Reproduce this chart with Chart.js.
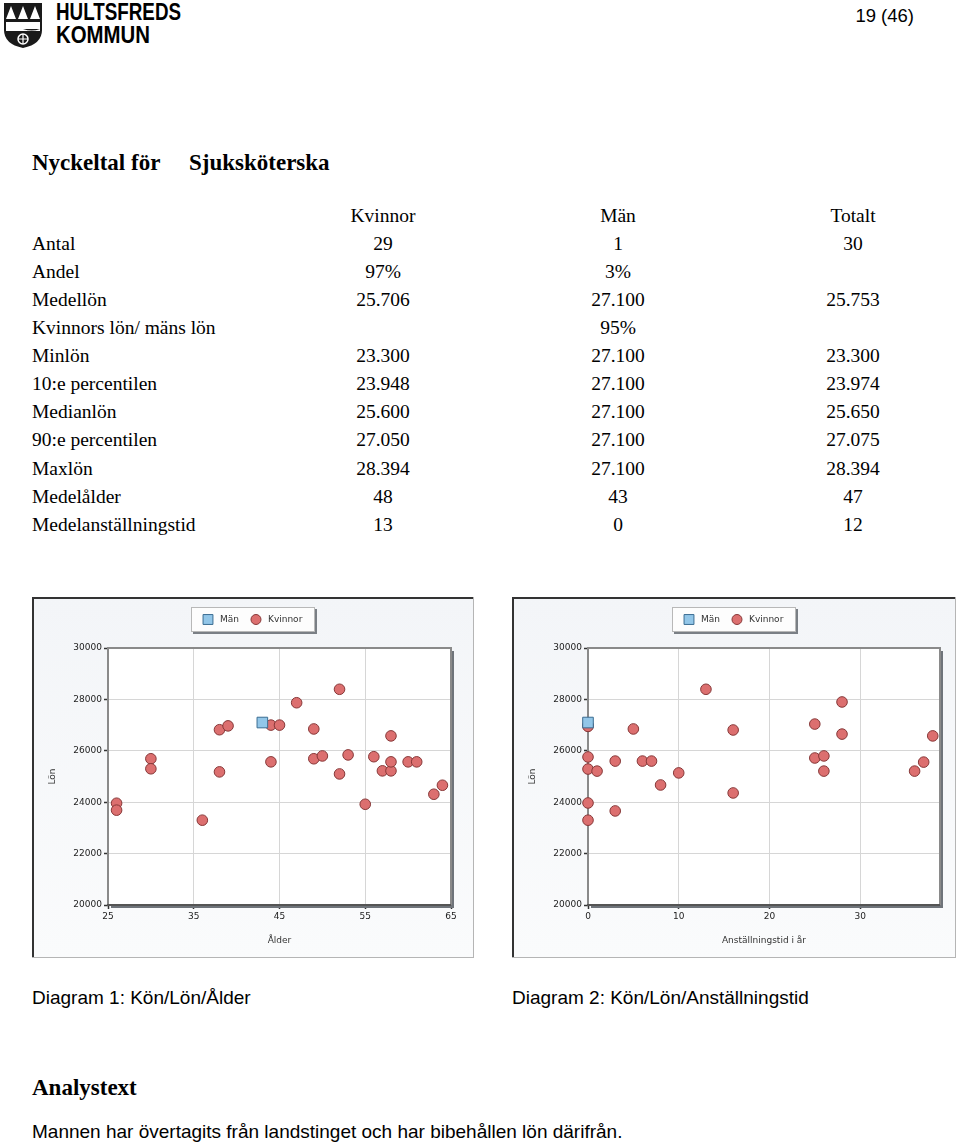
<!DOCTYPE html>
<html lang="sv">
<head>
<meta charset="utf-8">
<title>Nyckeltal för Sjuksköterska</title>
<script src="https://cdn.jsdelivr.net/npm/chart.js@4.4.0/dist/chart.umd.min.js"></script>
<style>
  body { margin: 0; width: 960px; height: 1143px; background: #fff; position: relative; overflow: hidden; }
  #page { position: absolute; left: 0; top: 0; }
  .serif { font-family: 'Liberation Serif', 'Times New Roman', serif; fill: #000; }
  .sans { font-family: 'Liberation Sans', Arial, sans-serif; fill: #000; }
  canvas { position: absolute; top: 597px; }
</style>
</head>
<body>
<svg id="page" width="960" height="1143" xmlns="http://www.w3.org/2000/svg">
  <!-- logo -->
  <path d="M4,3 H42 V30 Q42,44 23,48 Q4,44 4,30 Z" fill="#1a1a1a"/>
  <rect x="6" y="22" width="34" height="7" fill="#fff"/>
  <path d="M6,29 Q14,26 23,29 Q32,32 40,29 V31 H6 Z" fill="#fff"/>
  <path d="M11,6 L6,19 H16 Z M23,6 L18,19 H28 Z M35,6 L30,19 H40 Z" fill="#fff"/>
  <circle cx="23" cy="39" r="5" fill="none" stroke="#fff" stroke-width="1.5"/>
  <path d="M23,34 V44 M18,39 H28" stroke="#fff" stroke-width="1.2"/>
  <text x="56" y="20" class="sans" style="font-size:23px;font-weight:bold" textLength="125" lengthAdjust="spacingAndGlyphs">HULTSFREDS</text>
  <text x="56" y="43" class="sans" style="font-size:23px;font-weight:bold" textLength="94" lengthAdjust="spacingAndGlyphs">KOMMUN</text>

  <text x="914" y="21.5" class="sans" style="font-size:18.5px" text-anchor="end">19 (46)</text>

  <text x="32" y="170" class="serif" style="font-size:23px;font-weight:bold">Nyckeltal för</text>
  <text x="189" y="170" class="serif" style="font-size:23px;font-weight:bold">Sjuksköterska</text>

  <g id="table"></g>

  <text x="32" y="1004" class="sans" style="font-size:19px">Diagram 1: Kön/Lön/Ålder</text>
  <text x="512" y="1004" class="sans" style="font-size:19px">Diagram 2: Kön/Lön/Anställningstid</text>

  <text x="32" y="1095" class="serif" style="font-size:23px;font-weight:bold">Analystext</text>
  <text x="32" y="1138" class="sans" style="font-size:19px">Mannen har övertagits från landstinget och har bibehållen lön därifrån.</text>
</svg>

<canvas id="ageChart" width="442" height="361" style="left:32px"></canvas>
<canvas id="tenureChart" width="444" height="361" style="left:512px"></canvas>

<script>
// nyckeltal
const columnHeads = ['Kvinnor', 'Män', 'Totalt'];
const rowLabels = ['Antal', 'Andel', 'Medellön', 'Kvinnors lön/ mäns lön', 'Minlön', '10:e percentilen',
    'Medianlön', '90:e percentilen', 'Maxlön', 'Medelålder', 'Medelanställningstid'];
const womenCol = ['29', '97%', '25.706', '', '23.300', '23.948', '25.600', '27.050', '28.394', '48', '13'];
const menCol = ['1', '3%', '27.100', '95%', '27.100', '27.100', '27.100', '27.100', '27.100', '43', '0'];
const totalCol = ['30', '', '25.753', '', '23.300', '23.974', '25.650', '27.075', '28.394', '47', '12'];

// diagram data
const seriesLabels = ['Män', 'Kvinnor'];
const salaryTicks = [20000, 22000, 24000, 26000, 28000, 30000];
const ageTicks = [25, 35, 45, 55, 65];
const tenureTicks = [0, 10, 20, 30];

// Diagram 1: ålder / lön
const menAge = [43];
const menAgeSalary = [27100];
const womenAge = [26, 26, 36, 30, 30, 38, 39, 38, 44, 45, 44, 47, 49, 49, 50, 52, 52, 53, 55, 56, 57, 58, 58, 58, 60, 61, 63, 64];
const womenAgeSalary = [23960, 23690, 23300, 25690, 25300, 26820, 26970, 25180, 27000, 27000, 25570, 27870, 26850, 25690,
    25800, 28394, 25100, 25840, 23920, 25770, 25220, 25220, 26580, 25570, 25570, 25570, 24310, 24660];

// Diagram 2: anställningstid / lön
const menTenure = [0];
const menTenureSalary = [27100];
const womenTenure = [0, 0, 0, 0, 1, 3, 6, 7, 5, 13, 10, 16, 0, 0, 3, 8, 16, 28, 25, 28, 38, 25, 26, 26, 37, 36];
const womenTenureSalary = [27000, 26950, 25760, 25290, 25210, 25600, 25600, 25600, 26850, 28394, 25140, 26810, 23970,
    23300, 23660, 24670, 24360, 27900, 27040, 26650, 26580, 25720, 25800, 25210, 25560, 25210];

// table text
const table = document.getElementById('table');
const colX = [383, 618, 853];
function addText(x, y, str, anchor) {
    const t = document.createElementNS('http://www.w3.org/2000/svg', 'text');
    t.setAttribute('x', x);
    t.setAttribute('y', y);
    t.setAttribute('class', 'serif');
    t.setAttribute('style', 'font-size:19.5px');
    if (anchor) t.setAttribute('text-anchor', anchor);
    t.textContent = str;
    table.appendChild(t);
}
columnHeads.forEach((h, i) => addText(colX[i], 221.7, h, 'middle'));
rowLabels.forEach((label, i) => {
    const y = 221.7 + 28.09 * (i + 1);
    addText(32, y, label);
    [womenCol, menCol, totalCol].forEach((col, c) => {
        if (col[i]) addText(colX[c], y, col[i], 'middle');
    });
});

// chart look
const womenFill = '#dc6f6f';
const womenBorder = '#873838';
const menFill = '#92c6e8';
const menBorder = '#3b6d92';

const chartFrame = {
    id: 'chartFrame',
    beforeDraw(chart) {
        const { ctx, width, height, chartArea: a } = chart;
        ctx.save();
        const g = ctx.createLinearGradient(0, 0, 0, height);
        g.addColorStop(0, '#f3f5f8');
        g.addColorStop(1, '#fafbfc');
        ctx.fillStyle = g;
        ctx.fillRect(0, 0, width, height);
        ctx.fillStyle = '#fff';
        ctx.fillRect(a.left, a.top, a.right - a.left, a.bottom - a.top);
        // outer frame
        ctx.fillStyle = '#333';
        ctx.fillRect(0, 0, width, 2);
        ctx.fillRect(0, 0, 2, height);
        ctx.fillStyle = '#b5b5b5';
        ctx.fillRect(width - 1, 0, 1, height);
        ctx.fillRect(0, height - 1, width, 1);
        ctx.restore();
    },
    beforeDatasetsDraw(chart) {
        const { ctx, chartArea: a } = chart;
        ctx.save();
        // shadow
        ctx.fillStyle = '#6f747a';
        ctx.fillRect(a.right, a.top + 3, 3, a.bottom - a.top);
        ctx.fillRect(a.left + 3, a.bottom, a.right - a.left, 3);
        ctx.fillStyle = '#8a8a8a';
        ctx.fillRect(a.left - 1, a.top - 1, a.right - a.left + 1, 2);
        ctx.fillRect(a.left - 1, a.top - 1, 2, a.bottom - a.top + 1);
        ctx.fillRect(a.right - 1, a.top - 1, 2, a.bottom - a.top + 1);
        ctx.fillStyle = '#555';
        ctx.fillRect(a.left - 1, a.bottom - 1, a.right - a.left + 1, 2);
        ctx.restore();
    }
};

const legendBox = {
    id: 'legendBox',
    afterDraw(chart) {
        const ctx = chart.ctx;
        const w = 124, h = 25;
        const x0 = Math.round((chart.width - w) / 2), y0 = 10;
        ctx.save();
        ctx.fillStyle = '#7a7f85';
        ctx.fillRect(x0 + 2, y0 + 2, w, h);
        ctx.fillStyle = '#fdfdfd';
        ctx.fillRect(x0, y0, w, h);
        ctx.strokeStyle = '#b8b8b8';
        ctx.lineWidth = 1;
        ctx.strokeRect(x0 + 0.5, y0 + 0.5, w - 1, h - 1);
        ctx.font = '9px "DejaVu Sans"';
        ctx.textBaseline = 'middle';
        let cursor = x0 + 12;
        const cy = y0 + h / 2;
        chart.data.datasets.forEach(ds => {
            ctx.fillStyle = ds.backgroundColor;
            ctx.strokeStyle = ds.borderColor;
            ctx.lineWidth = 1;
            Chart.helpers.drawPoint(ctx, {
                pointStyle: ds.pointStyle,
                radius: ds.pointStyle === 'rect' ? 7 : 5,
                borderWidth: 1,
                rotation: 0
            }, cursor + 5, cy);
            ctx.fillStyle = '#333';
            ctx.fillText(ds.label, cursor + 17, cy);
            cursor += 17 + ctx.measureText(ds.label).width + 12;
        });
        ctx.restore();
    }
};

function makeChart(id, xTitle, xMin, xMax, xTicks, menX, menY, womenX, womenY, rightPad) {
    const ctx = document.getElementById(id).getContext('2d');
    return new Chart(ctx, {
        type: 'scatter',
        data: {
            datasets: [{
                label: seriesLabels[0],
                data: menX.map((v, i) => ({ x: v, y: menY[i] })),
                pointStyle: 'rect',
                pointRadius: 7.5,
                backgroundColor: menFill,
                borderColor: menBorder,
                borderWidth: 1,
                clip: false
            }, {
                label: seriesLabels[1],
                data: womenX.map((v, i) => ({ x: v, y: womenY[i] })),
                pointStyle: 'circle',
                pointRadius: 5.3,
                backgroundColor: womenFill,
                borderColor: womenBorder,
                borderWidth: 1,
                clip: false
            }]
        },
        options: {
            responsive: false,
            animation: false,
            devicePixelRatio: 1,
            layout: { padding: { top: 51, right: rightPad, bottom: 0, left: 0 } },
            plugins: {
                legend: { display: false },
                tooltip: { enabled: false }
            },
            scales: {
                x: {
                    type: 'linear',
                    min: xMin,
                    max: xMax,
                    afterBuildTicks: s => { s.ticks = xTicks.map(v => ({ value: v })); },
                    afterFit: s => { s.height = 53; },
                    border: { display: false },
                    grid: { color: '#d6d6d6', tickColor: '#333', tickLength: 4, tickWidth: 1.5 },
                    ticks: {
                        autoSkip: false, maxRotation: 0, padding: 2,
                        color: '#222', font: { family: 'DejaVu Sans', size: 9 },
                        callback: v => String(v)
                    },
                    title: {
                        display: true, text: xTitle, color: '#333',
                        font: { family: 'DejaVu Sans', size: 9 },
                        padding: { top: 0, bottom: 12 }
                    }
                },
                y: {
                    type: 'linear',
                    min: 20000,
                    max: 30000,
                    afterBuildTicks: s => { s.ticks = salaryTicks.map(v => ({ value: v })); },
                    afterFit: s => { s.width = 76; },
                    border: { display: false },
                    grid: { color: '#d6d6d6', tickColor: '#333', tickLength: 4, tickWidth: 1.5 },
                    ticks: {
                        autoSkip: false, padding: 2,
                        color: '#222', font: { family: 'DejaVu Sans', size: 9 },
                        callback: v => String(v)
                    },
                    title: {
                        display: true, text: 'Lön', color: '#333',
                        font: { family: 'DejaVu Sans', size: 9 },
                        padding: { top: 15, bottom: 0 }
                    }
                }
            }
        },
        plugins: [chartFrame, legendBox]
    });
}

makeChart('ageChart', 'Ålder', 25, 65, ageTicks, menAge, menAgeSalary, womenAge, womenAgeSalary, 23);
makeChart('tenureChart', 'Anställningstid i år', 0, 38.8, tenureTicks, menTenure, menTenureSalary, womenTenure, womenTenureSalary, 16);
</script>
</body>
</html>
